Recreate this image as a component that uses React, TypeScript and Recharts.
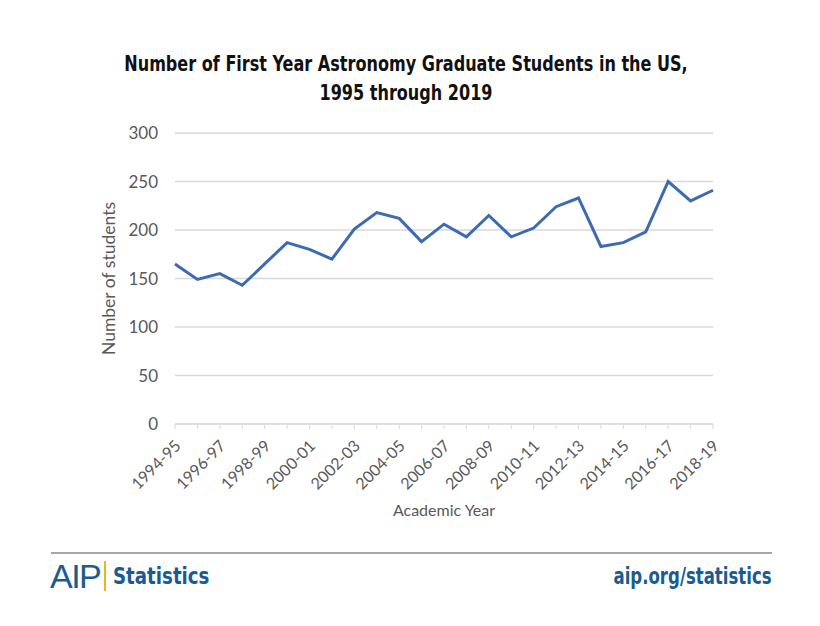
import { LineChart, Line, XAxis, YAxis, CartesianGrid, Label } from "recharts";

const years = [
  "1994-95", "1995-96", "1996-97", "1997-98", "1998-99", "1999-00", "2000-01",
  "2001-02", "2002-03", "2003-04", "2004-05", "2005-06", "2006-07", "2007-08",
  "2008-09", "2009-10", "2010-11", "2011-12", "2012-13", "2013-14", "2014-15",
  "2015-16", "2016-17", "2017-18", "2018-19",
];

const students = [
  165, 149, 155, 143, 165, 187, 180, 170, 201, 218, 212, 188, 206, 193,
  215, 193, 202, 224, 233, 183, 187, 198, 250, 230, 241,
];

const yTicks = [0, 50, 100, 150, 200, 250, 300];

const data = years.map((year, i) => ({ year, students: students[i] }));

const axisFont = "Lato, 'Open Sans', sans-serif";
const narrowFont = "'DejaVu Sans Condensed', 'Roboto', sans-serif";
const aipBlue = "#1b5b93";

const YearTick = ({ x, y, payload, index }: any) => {
  if (index % 2 !== 0) return null;
  return (
    <g transform={`translate(${x - 1},${y + 11})`}>
      <text
        x={0}
        y={0}
        dy={9}
        dx={2}
        textAnchor="end"
        transform="rotate(-45)"
        fontSize={16}
        fontFamily={axisFont}
        fill="#595959"
      >
        {payload.value}
      </text>
    </g>
  );
};

export default function App() {
  return (
    <div
      style={{
        position: "absolute",
        left: 0,
        top: 0,
        width: 820,
        height: 626,
        background: "#fff",
        overflow: "hidden",
      }}
    >
      {/* Title */}
      <div
        style={{
          position: "absolute",
          left: 0,
          width: 812,
          top: 50,
          textAlign: "center",
          fontFamily: narrowFont,
          fontWeight: 700,
          fontSize: 21,
          lineHeight: "29px",
          color: "#111",
          transform: "scaleX(0.85)",
          transformOrigin: "406px 0",
        }}
      >
        Number of First Year Astronomy Graduate Students in the US,
        <br />
        1995 through 2019
      </div>

      <LineChart
        width={820}
        height={626}
        data={data}
        margin={{ top: 133, right: 107, bottom: 102, left: 115 }}
      >
        <CartesianGrid vertical={false} stroke="#d9d9d9" strokeWidth={1.5} />
        <XAxis
          dataKey="year"
          interval={0}
          height={100}
          stroke="#d9d9d9"
          tickSize={5}
          tickMargin={2}
          tick={<YearTick />}
        >
          <Label
            value="Academic Year"
            position="insideBottom"
            offset={8}
            style={{ fontFamily: axisFont, fontSize: 16, fill: "#595959" }}
          />
        </XAxis>
        <YAxis
          domain={[0, 300]}
          ticks={yTicks}
          width={60}
          axisLine={false}
          tickLine={false}
          tickMargin={11}
          tick={{ fontFamily: axisFont, fontSize: 17, fill: "#595959" }}
        >
          <Label
            value="Number of students"
            angle={-90}
            position="insideLeft"
            offset={-6}
            style={{
              fontFamily: axisFont,
              fontSize: 17.5,
              fill: "#595959",
              textAnchor: "middle",
            }}
          />
        </YAxis>
        <Line
          type="linear"
          dataKey="students"
          stroke="#3d6bb3"
          strokeWidth={3}
          dot={false}
          isAnimationActive={false}
        />
      </LineChart>

      {/* Footer */}
      <div
        style={{
          position: "absolute",
          left: 51,
          width: 721,
          top: 552,
          height: 0,
          borderTop: "2px solid #a6a6a6",
        }}
      />
      <div
        style={{
          position: "absolute",
          left: 50,
          top: 561,
          display: "flex",
          alignItems: "center",
          height: 30,
        }}
      >
        <span
          style={{
            fontFamily: "'Liberation Sans', sans-serif",
            fontSize: 34,
            color: aipBlue,
            letterSpacing: -1.5,
            lineHeight: "30px",
          }}
        >
          AIP
        </span>
        <span
          style={{
            display: "inline-block",
            width: 2,
            height: 30,
            background: "#f2b21b",
            margin: "0 7px 0 4px",
          }}
        />
        <span
          style={{
            display: "inline-block",
            fontFamily: narrowFont,
            fontWeight: 700,
            fontSize: 23,
            color: aipBlue,
            lineHeight: "30px",
            transform: "scaleX(0.88)",
            transformOrigin: "0 0",
          }}
        >
          Statistics
        </span>
      </div>
      <div
        style={{
          position: "absolute",
          right: 48,
          top: 561,
          height: 30,
          lineHeight: "30px",
          fontFamily: narrowFont,
          fontWeight: 700,
          fontSize: 23,
          color: aipBlue,
          transform: "scaleX(0.8)",
          transformOrigin: "100% 0",
        }}
      >
        aip.org/statistics
      </div>
    </div>
  );
}
